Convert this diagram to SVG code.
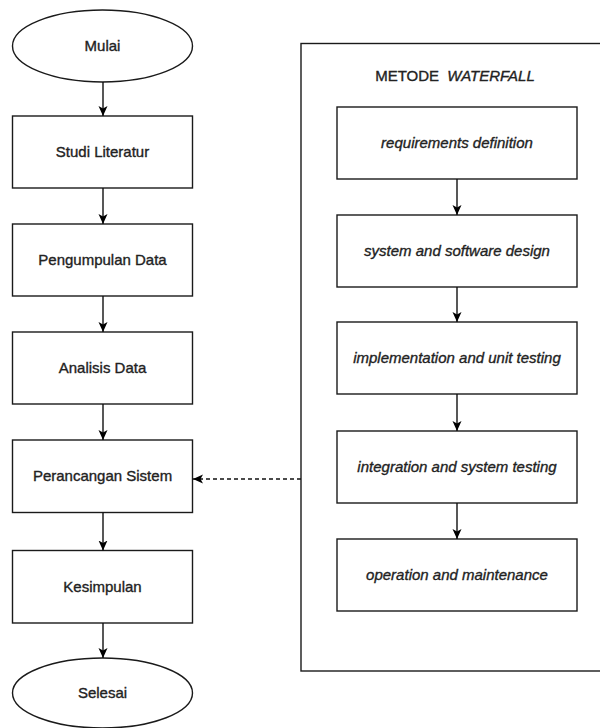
<svg xmlns="http://www.w3.org/2000/svg" width="600" height="728" viewBox="0 0 600 728">
  <style>
    .shape { fill: #ffffff; stroke: #1a1a1a; stroke-width: 1.4; }
    .frame { fill: none; stroke: #1a1a1a; stroke-width: 1.4; }
    .label { font-family: "Liberation Sans", Arial, sans-serif; font-size: 15px; fill: #222222; stroke: #222222; stroke-width: 0.35; text-anchor: middle; }
    .step { font-style: italic; }
    .link { fill: none; stroke: #111111; stroke-width: 1.4; }
    .dashed { stroke-dasharray: 4 3; }
  </style>
  <defs>
    <marker id="arrow" viewBox="0 0 10 10" refX="10" refY="5" markerWidth="10" markerHeight="10" markerUnits="userSpaceOnUse" orient="auto">
      <path d="M0,0.5 L10,5 L0,9.5 L2.5,5 Z" fill="#000000"/>
    </marker>
  </defs>
  <rect width="600" height="728" fill="#ffffff"/>

  <!-- waterfall method frame -->
  <g id="metode-waterfall">
    <rect class="frame" x="301" y="43.5" width="330" height="627.5"/>
    <text class="label" x="455" y="81">METODE <tspan dx="4" class="step">WATERFALL</tspan></text>
  </g>

  <!-- main research flow -->
  <g id="mulai">
    <ellipse class="shape" cx="102.5" cy="46" rx="90" ry="36"/>
    <text class="label" x="102.5" y="51">Mulai</text>
  </g>
  <g id="studi-literatur">
    <rect class="shape" x="12.5" y="116" width="180" height="72"/>
    <text class="label" x="102.5" y="157">Studi Literatur</text>
  </g>
  <g id="pengumpulan-data">
    <rect class="shape" x="12.5" y="224" width="180" height="72"/>
    <text class="label" x="102.5" y="265">Pengumpulan Data</text>
  </g>
  <g id="analisis-data">
    <rect class="shape" x="12.5" y="332" width="180" height="72"/>
    <text class="label" x="102.5" y="373">Analisis Data</text>
  </g>
  <g id="perancangan-sistem">
    <rect class="shape" x="12.5" y="440" width="180" height="72.5"/>
    <text class="label" x="102.5" y="481">Perancangan Sistem</text>
  </g>
  <g id="kesimpulan">
    <rect class="shape" x="12.5" y="550.5" width="180" height="72.5"/>
    <text class="label" x="102.5" y="592">Kesimpulan</text>
  </g>
  <g id="selesai">
    <ellipse class="shape" cx="102.5" cy="693" rx="90" ry="35"/>
    <text class="label" x="102.5" y="698">Selesai</text>
  </g>

  <!-- waterfall phases -->
  <g id="requirements-definition">
    <rect class="shape" x="337" y="107" width="240" height="72"/>
    <text class="label step" x="457" y="148">requirements definition</text>
  </g>
  <g id="system-software-design">
    <rect class="shape" x="337" y="215" width="240" height="72"/>
    <text class="label step" x="457" y="256">system and software design</text>
  </g>
  <g id="implementation-unit-testing">
    <rect class="shape" x="337" y="322" width="240" height="72"/>
    <text class="label step" x="457" y="363">implementation and unit testing</text>
  </g>
  <g id="integration-system-testing">
    <rect class="shape" x="337" y="431" width="240" height="72"/>
    <text class="label step" x="457" y="472">integration and system testing</text>
  </g>
  <g id="operation-maintenance">
    <rect class="shape" x="337" y="539" width="240" height="72"/>
    <text class="label step" x="457" y="580">operation and maintenance</text>
  </g>

  <!-- connectors -->
  <g id="connectors">
    <line class="link" x1="103" y1="82" x2="103" y2="116" marker-end="url(#arrow)"/>
    <line class="link" x1="103" y1="188" x2="103" y2="224" marker-end="url(#arrow)"/>
    <line class="link" x1="103" y1="296" x2="103" y2="332" marker-end="url(#arrow)"/>
    <line class="link" x1="103" y1="404" x2="103" y2="440" marker-end="url(#arrow)"/>
    <line class="link" x1="103" y1="512.5" x2="103" y2="550.5" marker-end="url(#arrow)"/>
    <line class="link" x1="103" y1="623" x2="103" y2="658" marker-end="url(#arrow)"/>

    <line class="link" x1="457" y1="179" x2="457" y2="215" marker-end="url(#arrow)"/>
    <line class="link" x1="457" y1="287" x2="457" y2="322" marker-end="url(#arrow)"/>
    <line class="link" x1="457" y1="394" x2="457" y2="431" marker-end="url(#arrow)"/>
    <line class="link" x1="457" y1="503" x2="457" y2="539" marker-end="url(#arrow)"/>

    <line class="link dashed" x1="301" y1="479" x2="193" y2="479" marker-end="url(#arrow)"/>
  </g>
</svg>
